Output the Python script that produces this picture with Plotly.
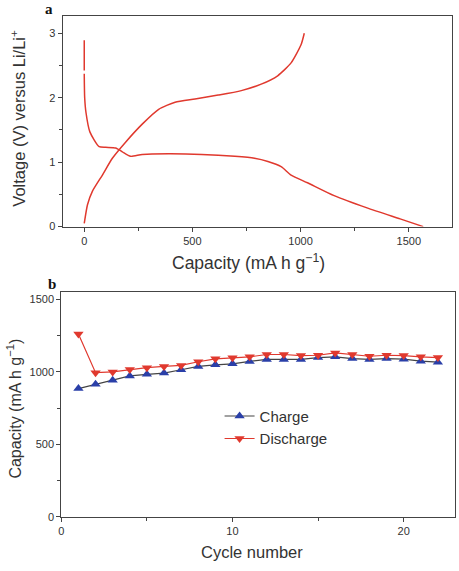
import plotly.graph_objects as go

W, H = 459, 571

# Panel a: galvanostatic curves (first cycle)
dis_cap = [0, 0, None, 0, 2, 8, 26, 69, 99, 145, 176, 214, 268, 390, 543, 696, 787, 849, 910, 956, 1032, 1155, 1307, 1460, 1567]
dis_v = [2.89, 2.42, None, 2.37, 2.0, 1.77, 1.47, 1.24, 1.23, 1.22, 1.16, 1.09, 1.12, 1.13, 1.12, 1.09, 1.06, 1.01, 0.93, 0.80, 0.68, 0.48, 0.29, 0.12, 0.0]
chg_cap = [0, 15, 38, 84, 130, 191, 268, 344, 420, 512, 619, 726, 818, 894, 956, 1002, 1017]
chg_v = [0.05, 0.34, 0.55, 0.80, 1.06, 1.31, 1.59, 1.82, 1.93, 1.98, 2.04, 2.11, 2.21, 2.34, 2.54, 2.82, 3.0]

# Panel b: cycling performance
cycles = list(range(1, 23))
charge = [885, 915, 942, 972, 983, 992, 1015, 1038, 1049, 1056, 1072, 1086, 1086, 1086, 1099, 1104, 1092, 1086, 1092, 1088, 1074, 1067]
discharge = [1261, 995, 1000, 1017, 1029, 1038, 1045, 1070, 1090, 1097, 1104, 1120, 1120, 1113, 1115, 1131, 1120, 1108, 1115, 1113, 1104, 1099]

RED = "#e0392e"
BLUE = "#2a3fa8"
FONT = "Liberation Sans, Arial, sans-serif"
TXT = "#333333"

def px(x):
    return x / W

def py(y):
    return 1 - y / H

fig = go.Figure()
fig.add_trace(go.Scatter(x=dis_cap, y=dis_v, mode="lines", line=dict(color=RED, width=1.5, shape="spline", smoothing=0.6),
                         connectgaps=False, showlegend=False, xaxis="x", yaxis="y"))
fig.add_trace(go.Scatter(x=chg_cap, y=chg_v, mode="lines", line=dict(color=RED, width=1.5, shape="spline", smoothing=0.6),
                         showlegend=False, xaxis="x", yaxis="y"))
fig.add_trace(go.Scatter(x=cycles, y=charge, mode="lines+markers", name="Charge",
                         line=dict(color="#444444", width=1.2),
                         marker=dict(symbol="triangle-up", size=9, color=BLUE), xaxis="x2", yaxis="y2"))
fig.add_trace(go.Scatter(x=cycles, y=discharge, mode="lines+markers", name="Discharge",
                         line=dict(color=RED, width=1.2),
                         marker=dict(symbol="triangle-down", size=9, color=RED), xaxis="x2", yaxis="y2"))

axis_common = dict(showline=True, linecolor="#444444", linewidth=1.2, mirror=True, showgrid=False, zeroline=False,
                   ticks="outside", ticklen=4, tickcolor="#444444",
                   tickfont=dict(family=FONT, size=11, color=TXT),
                   minor=dict(ticks="outside", ticklen=3, tickcolor="#444444"))

fig.update_layout(
    width=W, height=H, margin=dict(l=0, r=0, t=0, b=0),
    paper_bgcolor="white", plot_bgcolor="white",
    xaxis=dict(domain=[px(60), px(452)], range=[-100, 1700], tickvals=[0, 500, 1000, 1500],
               minor_dtick=250, anchor="y", **axis_common),
    yaxis=dict(domain=[py(229), py(16)], range=[0, 3.27], tickvals=[0, 1, 2, 3],
               minor_dtick=0.5, anchor="x", **axis_common),
    xaxis2=dict(domain=[px(58.7), px(455)], range=[0, 23], tickvals=[0, 10, 20],
                minor_dtick=5, anchor="y2", **axis_common),
    yaxis2=dict(domain=[py(522.3), py(295.3)], range=[0, 1550], tickvals=[0, 500, 1000, 1500],
                minor_dtick=250, anchor="x2", **axis_common),
    legend=dict(x=px(218), y=py(404), xanchor="left", yanchor="top", bgcolor="rgba(0,0,0,0)",
                font=dict(family=FONT, size=15, color=TXT), itemwidth=30, tracegroupgap=0),
)

ann = [
    dict(text="<b>a</b>", x=px(46), y=py(9), font=dict(family="Liberation Serif, serif", size=15, color="#111")),
    dict(text="<b>b</b>", x=px(49), y=py(287), font=dict(family="Liberation Serif, serif", size=15, color="#111")),
    dict(text="Voltage (V) versus Li/Li<sup>+</sup>", x=px(15), y=py(119), textangle=-90,
         font=dict(family=FONT, size=16.5, color=TXT)),
    dict(text="Capacity (mA h g<sup>−1</sup>)", x=px(247), y=py(265),
         font=dict(family=FONT, size=17.5, color=TXT)),
    dict(text="Capacity (mA h g<sup>−1</sup>)", x=px(11), y=py(413), textangle=-90,
         font=dict(family=FONT, size=16, color=TXT)),
    dict(text="Cycle number", x=px(251), y=py(558),
         font=dict(family=FONT, size=16.5, color=TXT)),
]
for a in ann:
    a.update(xref="paper", yref="paper", showarrow=False, xanchor="center", yanchor="middle")
    fig.add_annotation(**a)

fig.write_html("out.html")
